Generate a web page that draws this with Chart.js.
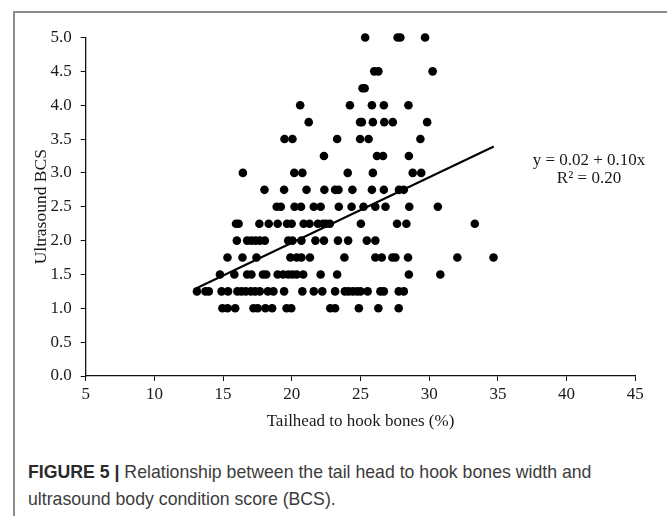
<!DOCTYPE html>
<html>
<head>
<meta charset="utf-8">
<script src="https://cdn.jsdelivr.net/npm/chart.js@4/dist/chart.umd.min.js"></script>
<style>
  html, body { margin:0; padding:0; width:667px; height:516px; overflow:hidden; background:#fff; }
  #frame { position:absolute; left:13px; top:11px; width:800px; height:700px; border:2px solid #8c8c8c; box-sizing:border-box; }
  #wrap { position:absolute; left:0; top:0; width:667px; height:440px; }
  #eq { position:absolute; left:519px; top:150.5px; width:140px; text-align:center; font-family:"Liberation Serif", serif; font-size:17px; line-height:18.5px; color:#1a1a1a; }
  #cap { position:absolute; left:28px; top:459px; width:639px; font-family:"Liberation Sans", Arial, sans-serif; font-size:17.7px; line-height:27px; color:#3c3c3c; white-space:nowrap; }
  #cap b { color:#2a2a2a; }
</style>
</head>
<body>
<div id="frame"></div>
<div id="wrap"><canvas id="c" width="667" height="440"></canvas></div>
<div id="eq">y = 0.02 + 0.10x<br>R² = 0.20</div>
<div id="cap"><b>FIGURE 5 |</b> Relationship between the tail head to hook bones width and<br>ultrasound body condition score (BCS).</div>
<script>
// BCS levels and the tailhead-to-hook-bones values (%) observed at each level
const bcsLevels = [5.0, 4.5, 4.25, 4.0, 3.75, 3.5, 3.25, 3.0, 2.75, 2.5, 2.25, 2.0, 1.75, 1.5, 1.25, 1.0];
const th500 = [25.34, 27.7, 27.9, 29.70];
const th450 = [26.0, 26.3, 30.25];
const th425 = [25.15, 25.3];
const th400 = [20.61, 24.23, 25.83, 26.70, 28.49];
const th375 = [21.23, 24.97, 25.1, 25.9, 26.73, 27.35, 29.85];
const th350 = [19.47, 20.05, 23.30, 24.97, 25.59, 29.36];
const th325 = [22.34, 26.2, 26.64, 28.52];
const th300 = [16.44, 20.18, 20.77, 24.07, 25.9, 28.8, 29.42];
const th275 = [18.01, 19.44, 21.07, 22.37, 23.15, 23.4, 24.41, 25.83, 26.7, 27.8, 28.15];
const th250 = [18.9, 19.2, 20.2, 20.67, 21.6, 22.1, 23.42, 24.35, 25.22, 26.08, 26.82, 28.55, 30.63];
const th225 = [15.94, 16.13, 17.64, 18.32, 18.97, 19.65, 19.99, 20.86, 21.29, 21.9, 22.28, 22.5, 22.77, 25.03, 27.66, 28.34, 33.32];
const th200 = [16.0, 16.75, 17.06, 17.36, 17.67, 18.04, 19.74, 20.05, 20.7, 21.72, 22.34, 23.36, 24.1, 25.46, 26.08];
const th175 = [15.32, 16.41, 17.43, 19.9, 20.36, 20.7, 21.32, 23.83, 26.08, 26.55, 27.32, 27.54, 28.46, 32.05, 34.68];
const th150 = [14.77, 15.82, 16.75, 17.06, 17.9, 18.14, 18.97, 19.37, 19.74, 20.05, 20.36, 20.83, 22.1, 23.3, 28.52, 30.81];
const th125 = [13.1, 13.72, 13.96, 14.89, 15.36, 16.04, 16.34, 16.65, 17.02, 17.33, 17.67, 18.26, 18.66, 19.44, 20.77, 21.6, 22.22, 23.15, 23.86, 24.13, 24.44, 24.75, 25.0, 25.52, 26.45, 26.7, 27.78, 28.15];
const th100 = [14.95, 15.32, 15.88, 17.21, 17.52, 18.08, 18.57, 19.62, 19.96, 22.8, 23.15, 24.88, 26.3, 27.78];
const thByLevel = [th500, th450, th425, th400, th375, th350, th325, th300, th275, th250, th225, th200, th175, th150, th125, th100];

// Fitted trend line end points (as drawn)
const trendX = [13.1, 34.7];
const trendY = [1.30, 3.39];

const xTicks = [5, 10, 15, 20, 25, 30, 35, 40, 45];
const yTicks = [0, 0.5, 1, 1.5, 2, 2.5, 3, 3.5, 4, 4.5, 5];

const points = [];
bcsLevels.forEach((b, i) => thByLevel[i].forEach(x => points.push({x: x, y: b})));
const trend = trendX.map((x, i) => ({x: x, y: trendY[i]}));

const serif = '"Liberation Serif", "Times New Roman", serif';

new Chart(document.getElementById('c'), {
  type: 'scatter',
  data: {
    datasets: [
      { data: points, backgroundColor: '#000', borderColor: '#000', pointRadius: 4.3, pointHoverRadius: 4.3, borderWidth: 0, clip: false },
      { type: 'line', data: trend, borderColor: '#000', borderWidth: 2, pointRadius: 0, fill: false, clip: false }
    ]
  },
  options: {
    responsive: false,
    animation: false,
    events: [],
    plugins: { legend: { display: false }, tooltip: { enabled: false } },
    layout: { padding: { top: 37.5, right: 31.7, left: 0, bottom: 0 } },
    scales: {
      x: {
        type: 'linear', min: 5, max: 45,
        afterBuildTicks: s => { s.ticks = xTicks.map(v => ({value: v})); },
        afterFit: s => { s.height = 64; },
        border: { color: '#111', width: 1.3 },
        grid: { drawOnChartArea: false, drawTicks: true, tickLength: 5, color: '#111', tickColor: '#111' },
        ticks: { color: '#1a1a1a', font: { family: serif, size: 17 }, padding: 3 },
        title: { display: true, text: 'Tailhead to hook bones (%)', color: '#1a1a1a', font: { family: serif, size: 17 }, padding: { top: 0, bottom: 8 } }
      },
      y: {
        type: 'linear', min: 0, max: 5,
        afterBuildTicks: s => { s.ticks = yTicks.map(v => ({value: v})); },
        afterFit: s => { s.width = 85.7; },
        border: { color: '#111', width: 1.3 },
        grid: { drawOnChartArea: false, drawTicks: true, tickLength: 5, color: '#111', tickColor: '#111' },
        ticks: { color: '#1a1a1a', font: { family: serif, size: 17 }, padding: 9, callback: v => Number(v).toFixed(1) },
        title: { display: true, text: 'Ultrasound BCS', color: '#1a1a1a', font: { family: serif, size: 17.5 }, padding: { top: 30.5, bottom: 0 } }
      }
    }
  }
});
</script>
</body>
</html>
